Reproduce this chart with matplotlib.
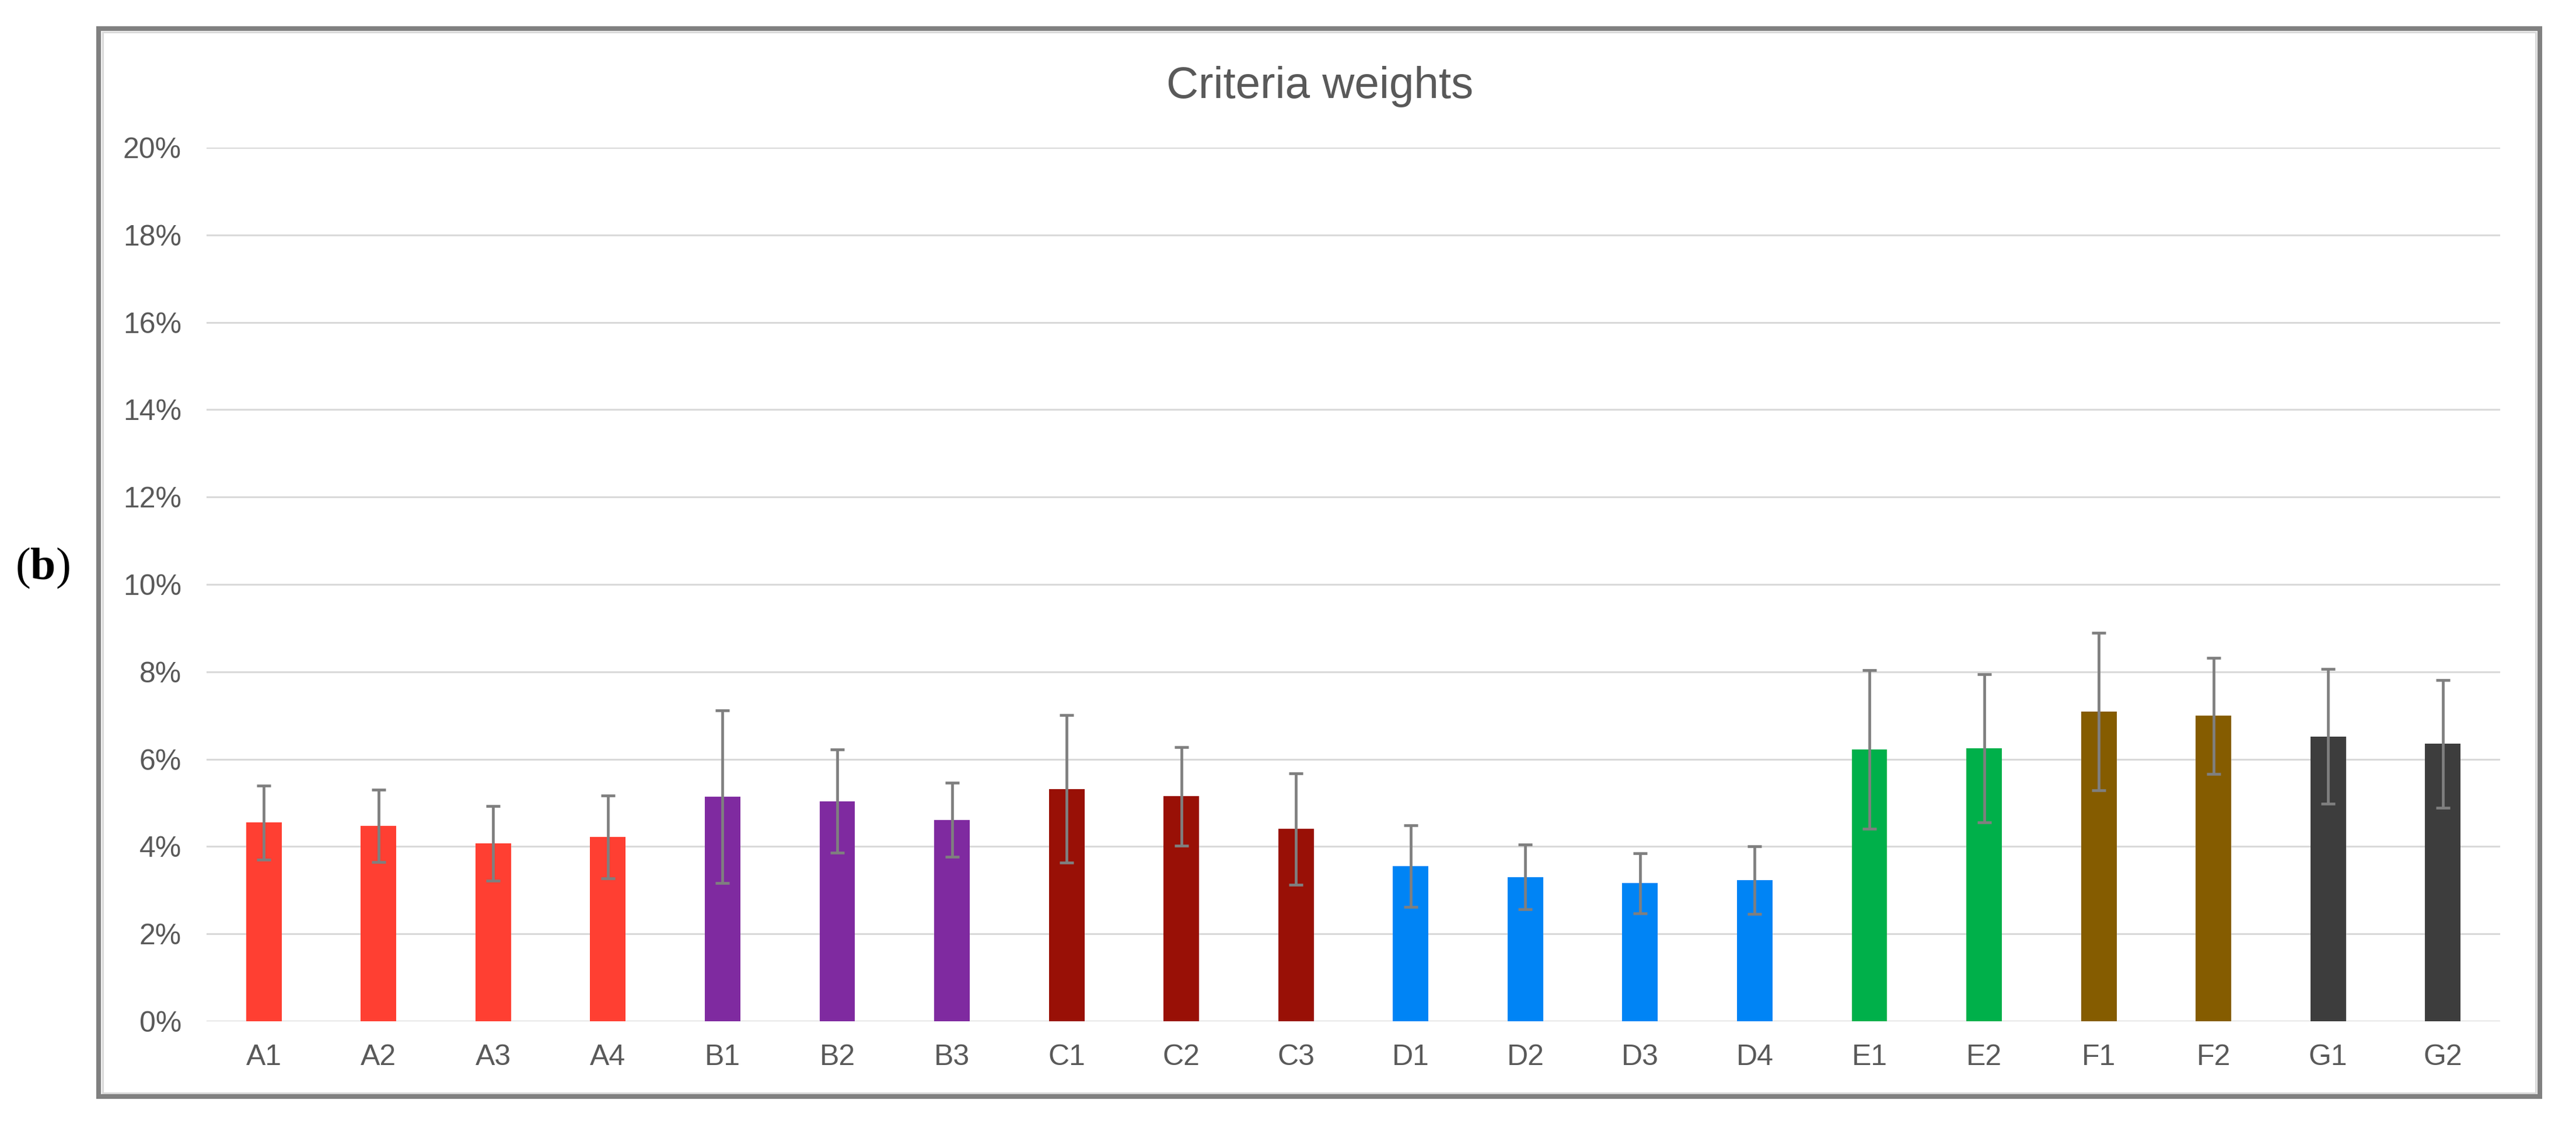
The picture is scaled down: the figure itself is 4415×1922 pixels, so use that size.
import matplotlib
matplotlib.use('Agg')
import matplotlib.pyplot as plt
from matplotlib.patches import Rectangle
import numpy as np

# données (poids en %)
criteria = ['A1', 'A2', 'A3', 'A4', 'B1', 'B2', 'B3', 'C1', 'C2', 'C3',
            'D1', 'D2', 'D3', 'D4', 'E1', 'E2', 'F1', 'F2', 'G1', 'G2']
weights = [4.55, 4.47, 4.07, 4.22, 5.14, 5.04, 4.61, 5.32, 5.15, 4.40,
           3.55, 3.30, 3.16, 3.23, 6.22, 6.25, 7.09, 6.99, 6.52, 6.35]
errors = [0.85, 0.83, 0.85, 0.95, 1.97, 1.18, 0.85, 1.69, 1.13, 1.28,
          0.93, 0.74, 0.69, 0.78, 1.82, 1.70, 1.80, 1.33, 1.54, 1.46]
y_ticks = [0, 2, 4, 6, 8, 10, 12, 14, 16, 18, 20]

group_colors = {'A': '#FF3F32', 'B': '#7F2AA0', 'C': '#991006', 'D': '#0084F5',
                'E': '#00B04A', 'F': '#855C00', 'G': '#3D3D3D'}

plt.rcParams['font.family'] = ['Liberation Sans', 'DejaVu Sans']
plt.rcParams['mathtext.fontset'] = 'custom'
plt.rcParams['mathtext.rm'] = 'Liberation Serif'
plt.rcParams['mathtext.bf'] = 'Liberation Serif:bold'

W, H = 4415, 1922
fig = plt.figure(figsize=(W / 100, H / 100), dpi=100)

# axes en pixels -> fractions
ax = fig.add_axes([354 / W, 1 - 1751 / H, (4285 - 354) / W, (1751 - 253) / H])

x = np.arange(len(criteria))
colors = [group_colors[c[0]] for c in criteria]
ax.bar(x, weights, width=0.31, color=colors, zorder=2)
ax.errorbar(x, weights, yerr=errors, fmt='none', ecolor='#7F7F7F',
            elinewidth=3.4, capsize=8.3, capthick=3.4, zorder=3)

ax.set_xlim(-0.5, len(criteria) - 0.5)
ax.set_ylim(0, 20)
ax.set_yticks(y_ticks)
ax.set_yticklabels([f'{v}%' for v in y_ticks])
ax.set_xticks(x)
ax.set_xticklabels(criteria)
ax.grid(axis='y', color='#D9D9D9', linewidth=2.2, zorder=0)
ax.set_axisbelow(True)
for s in ax.spines.values():
    s.set_visible(False)
ax.tick_params(axis='y', length=0, pad=31, labelsize=36, labelcolor='#595959')
ax.tick_params(axis='x', length=0, pad=28, labelsize=36, labelcolor='#595959')

fig.text(2262 / W, 1 - 168 / H, 'Criteria weights', ha='center', va='baseline',
         fontsize=55, color='#595959')

fig.text(73 / W, 1 - 974 / H, r'$\mathrm{(}\mathbf{b}\mathrm{)}$', ha='center',
         va='center', fontsize=56, color='black')

# cadre du graphique
fig.patches.append(Rectangle((176 / W, 1 - 1874 / H), (4346 - 176) / W, (1874 - 55) / H,
                             transform=fig.transFigure, fill=False,
                             edgecolor='#D9D9D9', linewidth=2.2))
fig.patches.append(Rectangle((169 / W, 1 - 1880 / H), (4353 - 169) / W, (1880 - 48.5) / H,
                             transform=fig.transFigure, fill=False,
                             edgecolor='#808080', linewidth=5.8))

fig.savefig('out.png', dpi=100)
